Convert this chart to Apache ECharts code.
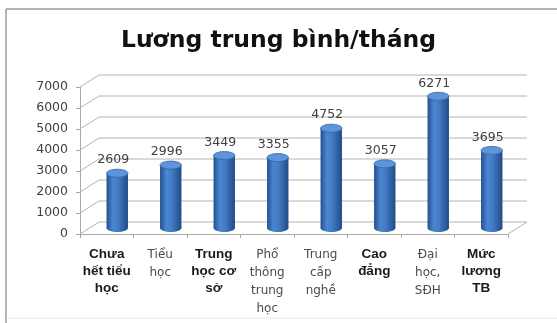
<!DOCTYPE html>
<html>
<head>
<meta charset="utf-8">
<script src="https://cdn.jsdelivr.net/npm/echarts@6/dist/echarts.min.js"></script>
<style>
  html, body { margin: 0; padding: 0; background: #fff; }
  #chart { width: 557px; height: 323px; }
</style>
</head>
<body>
<div id="chart"></div>
<script>
// Average monthly salary by education level
const categories = [
  'Chưa\nhết tiểu\nhọc',
  'Tiểu\nhọc',
  'Trung\nhọc cơ\nsở',
  'Phổ\nthông\ntrung\nhọc',
  'Trung\ncấp\nnghề',
  'Cao\nđẳng',
  'Đại\nhọc,\nSĐH',
  'Mức\nlương\nTB'
];
const salaries = [2609, 2996, 3449, 3355, 4752, 3057, 6271, 3695];
const yTicks = [0, 1000, 2000, 3000, 4000, 5000, 6000, 7000];
const titleText = 'Lương trung bình/tháng';

// which category labels are set in the heavier face
const heavyLabel = [true, false, true, false, false, true, false, true];

// depth offset of the back wall (pseudo 3D)
const DX = 19, DY = -12;

const chart = echarts.init(document.getElementById('chart'));

function wallLines(params, api) {
  const cs = params.coordSys;
  const v = api.value(1);
  const y = api.coord([0, v])[1];
  const x0 = cs.x, x1 = cs.x + cs.width;
  const style = { stroke: '#b4b4b4', lineWidth: 1, fill: null };
  const children = [{
    type: 'polyline',
    shape: { points: [[x0, y], [x0 + DX, y + DY], [x1 + DX, y + DY]] },
    style: style
  }];
  if (v === 0) {
    children.push({
      type: 'line',
      shape: { x1: x1, y1: y, x2: x1 + DX, y2: y + DY },
      style: style
    });
  }
  return { type: 'group', children: children };
}

function cylinder(params, api) {
  const idx = api.value(0);
  const val = api.value(1);
  const base = api.coord([idx, 0]);
  const top = api.coord([idx, val]);
  const w = api.size([1, 0])[0] * 0.4;
  const cx = base[0] + DX / 2 + 1;
  const by = base[1] + DY / 2;
  const ty = top[1] + DY / 2;
  const ry = 4;
  const bodyFill = new echarts.graphic.LinearGradient(0, 0, 1, 0, [
    { offset: 0, color: '#21508e' },
    { offset: 0.3, color: '#4d86d0' },
    { offset: 0.55, color: '#427ac4' },
    { offset: 1, color: '#204b86' }
  ]);
  return {
    type: 'group',
    children: [
      { type: 'ellipse', shape: { cx: cx, cy: by, rx: w / 2, ry: ry }, style: { fill: bodyFill } },
      { type: 'rect', shape: { x: cx - w / 2, y: ty, width: w, height: by - ty }, style: { fill: bodyFill } },
      { type: 'ellipse', shape: { cx: cx, cy: ty, rx: w / 2, ry: ry },
        style: { fill: '#6094da', stroke: '#3365aa', lineWidth: 0.8 } },
      { type: 'text', x: cx - 4, y: ty - 13,
        style: { text: String(val), fill: '#404040', font: '12.5px "DejaVu Sans"',
                 align: 'center', verticalAlign: 'middle' } }
    ]
  };
}

const option = {
  animation: false,
  backgroundColor: '#fff',
  title: {
    text: titleText,
    left: 'center',
    top: 24,
    textStyle: { fontFamily: 'DejaVu Sans', fontWeight: 'bold', fontSize: 23.5, color: '#111' }
  },
  graphic: [
    { type: 'line', shape: { x1: 6, y1: 9, x2: 557, y2: 9 }, style: { stroke: '#9a9a9a', lineWidth: 1.5 } },
    { type: 'line', shape: { x1: 6, y1: 9, x2: 6, y2: 323 }, style: { stroke: '#9a9a9a', lineWidth: 1.5 } },
    { type: 'line', shape: { x1: 6, y1: 318, x2: 557, y2: 318 }, style: { stroke: '#e4e4e4', lineWidth: 1 } }
  ],
  grid: { left: 80, right: 49, top: 87, bottom: 89 },
  xAxis: {
    type: 'category',
    data: categories,
    axisLine: { show: true, lineStyle: { color: '#a8a8a8', width: 1 } },
    axisTick: { show: true, length: 4, lineStyle: { color: '#a8a8a8' } },
    axisLabel: {
      interval: 0,
      margin: 12,
      formatter: function (value, i) {
        const key = heavyLabel[i] ? 'b' : 'r';
        return value.split('\n').map(function (s) { return '{' + key + '|' + s + '}'; }).join('\n');
      },
      rich: {
        b: { fontFamily: 'Liberation Sans', fontWeight: 'bold', fontSize: 13.5, color: '#1a1a1a', lineHeight: 17, align: 'center' },
        r: { fontFamily: 'DejaVu Sans', fontSize: 12, color: '#4a4a4a', lineHeight: 18, align: 'center' }
      }
    },
    splitLine: { show: false }
  },
  yAxis: {
    type: 'value',
    min: 0,
    max: 7000,
    interval: 1000,
    axisLine: { show: true, lineStyle: { color: '#a8a8a8', width: 1 } },
    axisTick: { show: true, length: 4, lineStyle: { color: '#a8a8a8' } },
    axisLabel: {
      fontFamily: 'DejaVu Sans', fontSize: 12.5, color: '#404040', margin: 12,
      formatter: function (v) { return String(v); }
    },
    splitLine: { show: false }
  },
  series: [
    {
      type: 'custom',
      renderItem: wallLines,
      data: yTicks.map(function (v) { return [0, v]; }),
      clip: false,
      silent: true,
      z: 1
    },
    {
      type: 'custom',
      renderItem: cylinder,
      data: salaries.map(function (v, i) { return [i, v]; }),
      clip: false,
      z: 5
    }
  ]
};

chart.setOption(option);
</script>
</body>
</html>
